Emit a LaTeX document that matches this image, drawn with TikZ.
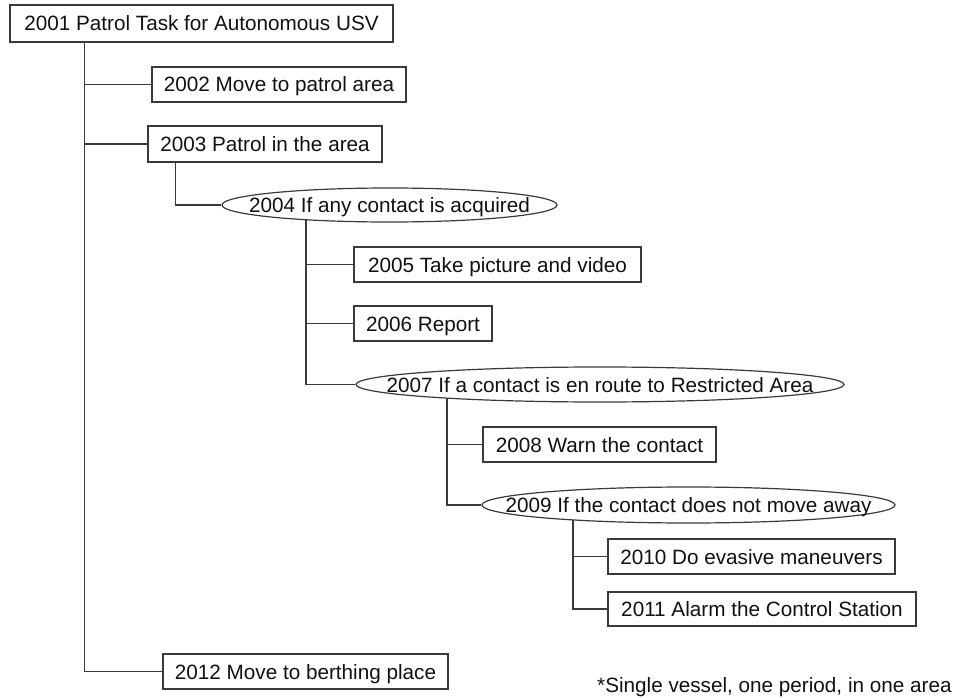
\documentclass[tikz,border=0pt]{standalone}
\usepackage{fontspec}
\setmainfont{Liberation Sans}
\usetikzlibrary{shapes.geometric,backgrounds}
\definecolor{linecol}{HTML}{3A3A3A}
\definecolor{txtcol}{HTML}{111111}
\tikzset{
  base/.style={inner sep=0pt, text height=17pt, text depth=2pt, text=txtcol,
    font=\fontsize{20.7}{25}\selectfont},
  taskbox/.style={base, draw=linecol, line width=1.2pt, rectangle, fill=white, minimum height=35pt},
  condell/.style={base, draw=linecol, line width=1.2pt, ellipse, fill=white, minimum height=35pt},
  conn/.style={draw=linecol, line width=1.3pt},
}
\begin{document}
\begin{tikzpicture}[x=1pt,y=-1pt]
\useasboundingbox (0,0) rectangle (954,698);
\node[taskbox, minimum width=383pt, minimum height=37pt] (n2001) at (201.5,23.5) {2001 Patrol Task for Autonomous USV};
\node[taskbox, minimum width=254pt] (n2002) at (279,84.5) {2002 Move to patrol area};
\node[taskbox, minimum width=234pt, minimum height=36pt] (n2003) at (265,144) {2003 Patrol in the area};
\node[condell, minimum width=335pt, minimum height=34pt] (n2004) at (389.5,205) {\makebox[0pt]{2004 If any contact is acquired}};
\node[taskbox, minimum width=287pt] (n2005) at (497.5,264.5) {2005 Take picture and video};
\node[taskbox, minimum width=138pt] (n2006) at (423,323.5) {2006 Report};
\node[condell, minimum width=488pt] (n2007) at (600,384.5) {\makebox[0pt]{2007 If a contact is en route to Restricted Area}};
\node[taskbox, minimum width=233pt] (n2008) at (599.5,444.5) {2008 Warn the contact};
\node[condell, minimum width=413pt, minimum height=36pt] (n2009) at (688.5,505) {\makebox[0pt]{2009 If the contact does not move away}};
\node[taskbox, minimum width=287pt] (n2010) at (751.5,556.5) {2010 Do evasive maneuvers};
\node[taskbox, minimum width=308pt, minimum height=34pt] (n2011) at (762,609) {2011 Alarm the Control Station};
\node[taskbox, minimum width=285pt] (n2012) at (305.5,671.5) {2012 Move to berthing place};
\node[base, anchor=base west] (note) at (597,692) {*Single vessel, one period, in one area};
\begin{scope}[on background layer]
\draw[conn] ([xshift=75pt]n2001.south west) |- (n2002.west);
\draw[conn] ([xshift=75pt]n2001.south west) |- (n2003.west);
\draw[conn] ([xshift=75pt]n2001.south west) |- (n2012.west);
\draw[conn] ([xshift=28pt]n2003.south west) |- (n2004.west);
\draw[conn] ([xshift=-83.5pt]n2004.center) |- (n2005.west);
\draw[conn] ([xshift=-83.5pt]n2004.center) |- (n2006.west);
\draw[conn] ([xshift=-83.5pt]n2004.center) |- (n2007.west);
\draw[conn] ([xshift=-153pt]n2007.center) |- (n2008.west);
\draw[conn] ([xshift=-153pt]n2007.center) |- (n2009.west);
\draw[conn] ([xshift=-115.5pt]n2009.center) |- (n2010.west);
\draw[conn] ([xshift=-115.5pt]n2009.center) |- (n2011.west);
\end{scope}
\end{tikzpicture}
\end{document}
